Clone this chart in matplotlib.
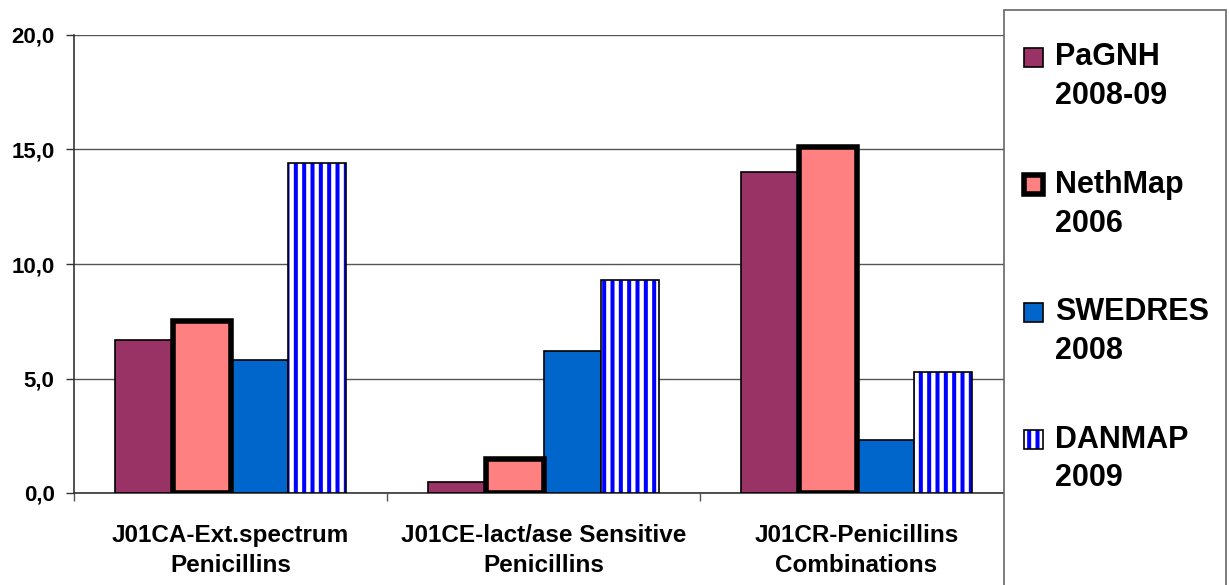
import matplotlib
matplotlib.use("Agg")
import matplotlib.pyplot as plt
from matplotlib.patches import Rectangle
import numpy as np

plt.rcParams['font.family'] = ['Liberation Sans', 'DejaVu Sans']
plt.rcParams['font.weight'] = 'bold'
plt.rcParams['hatch.linewidth'] = 2.9

categories = ["J01CA-Ext.spectrum\nPenicillins",
              "J01CE-lact/ase Sensitive\nPenicillins",
              "J01CR-Penicillins\nCombinations"]
series = ["PaGNH\n2008-09", "NethMap\n2006", "SWEDRES\n2008", "DANMAP\n2009"]
pagnh = [6.7, 0.5, 14.0]
nethmap = [7.5, 1.5, 15.1]
swedres = [5.8, 6.2, 2.3]
danmap = [14.4, 9.3, 5.3]
yticks = [0, 5, 10, 15, 20]
ytick_labels = ["0,0", "5,0", "10,0", "15,0", "20,0"]

values = [pagnh, nethmap, swedres, danmap]
faces = ["#993366", "#FF8080", "#0066CC", "white"]
edge_w = [1.2, 4.0, 1.2, 1.2]
stripes = "||"

fig = plt.figure(figsize=(12.29, 5.85), dpi=100)
ax = fig.add_axes([74 / 1229, 1 - 493 / 585, 939 / 1229, 458 / 585])

w = 0.184
centers = np.arange(len(categories)) + 0.5
for i, vals in enumerate(values):
    x = centers + (i - 1.5) * w
    if i == 3:
        # striped fill in blue, black outline drawn on top
        ax.bar(x, vals, w, facecolor="white", edgecolor="#0000FF",
               hatch=stripes, linewidth=0, zorder=3)
        ax.bar(x, vals, w, facecolor="none", edgecolor="black",
               linewidth=edge_w[i], zorder=4)
    else:
        ax.bar(x, vals, w, facecolor=faces[i], edgecolor="black",
               linewidth=edge_w[i], zorder=3 if i != 1 else 4)

ax.set_xlim(0, 3)
ax.set_ylim(0, 20)
ax.set_yticks(yticks)
ax.set_yticklabels(ytick_labels, fontsize=16, fontweight='bold')
ax.set_xticks(centers)
ax.set_xticklabels(categories, fontsize=17.5, fontweight='bold', linespacing=1.4)
ax.set_xticks([0, 1, 2, 3], minor=True)
ax.tick_params(axis='x', which='major', length=0, pad=22)
ax.tick_params(axis='x', which='minor', length=6, width=1, color='#555555')
ax.tick_params(axis='y', length=6, width=1, pad=8, color='#333333')

ax.yaxis.grid(True, color='#555555', linewidth=1)
ax.set_axisbelow(True)
for s in ['top', 'right']:
    ax.spines[s].set_visible(False)
ax.spines['left'].set_color('#333333')
ax.spines['bottom'].set_color('#333333')
ax.spines['left'].set_linewidth(1.2)
ax.spines['bottom'].set_linewidth(1.2)

# legend panel on the right
W, H = 1229, 585
fig.patches.append(Rectangle((1004 / W, -0.02), 222 / W, (585 - 10) / H + 0.02,
                             transform=fig.transFigure, facecolor='white',
                             edgecolor='#666666', linewidth=1.2, zorder=1))
sq = 19
for i, name in enumerate(series):
    yc = 57 + i * 127.5
    box = (1024 / W, 1 - (yc + sq / 2) / H)
    if i == 3:
        fig.patches.append(Rectangle(box, sq / W, sq / H,
                                     transform=fig.transFigure, facecolor='white',
                                     edgecolor='#0000FF', hatch=stripes, linewidth=0, zorder=2))
        fig.patches.append(Rectangle(box, sq / W, sq / H,
                                     transform=fig.transFigure, facecolor='none',
                                     edgecolor='black', linewidth=1.2, zorder=2))
    else:
        fig.patches.append(Rectangle(box, sq / W, sq / H,
                                     transform=fig.transFigure, facecolor=faces[i],
                                     edgecolor='black', linewidth=edge_w[i], zorder=2))
    first, second = name.split("\n")
    fig.text(1055 / W, 1 - yc / H, first, fontsize=22, fontweight='bold',
             va='center', ha='left')
    fig.text(1055 / W, 1 - (yc + 39) / H, second, fontsize=22, fontweight='bold',
             va='center', ha='left')

fig.savefig("out.png", dpi=100)
